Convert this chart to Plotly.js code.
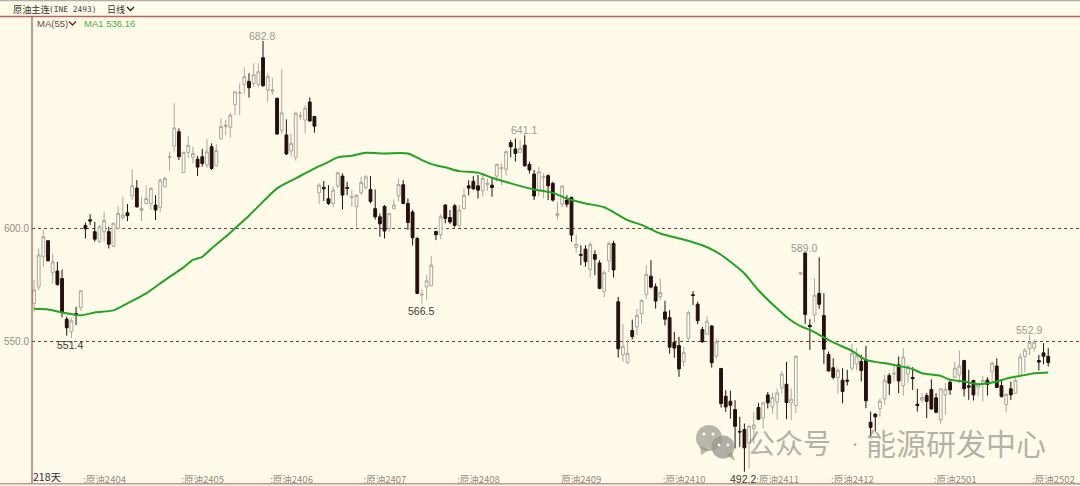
<!DOCTYPE html>
<html><head><meta charset="utf-8">
<script src="https://cdn.plot.ly/plotly-3.0.0.min.js"></script>
<style>html,body{margin:0;padding:0;background:#FFFAE9}#c{width:1080px;height:486px}</style>
</head><body><div id="c"></div>
<script>
const opens=[566.7,574.0,587.3,594.4,580.2,581.0,577.7,559.7,554.1,562.2,
564.8,601.2,603.7,598.4,594.0,598.4,598.4,592.0,599.9,604.6,
606.8,614.3,617.7,607.8,610.9,610.9,610.2,609.2,618.3,631.3,
636.3,642.6,624.6,633.5,631.3,630.5,631.6,627.9,636.0,627.6,
639.5,644.9,644.6,654.6,659.6,663.6,664.9,664.0,663.6,675.4,
661.1,660.6,657.4,643.1,641.2,634.2,631.3,649.3,647.8,655.8,
649.4,615.6,618.0,613.0,610.9,618.6,623.0,618.0,613.6,609.4,
615.6,617.9,617.1,608.6,605.0,609.6,599.9,608.6,614.2,619.2,
610.9,607.1,595.4,570.4,574.0,574.5,598.5,597.1,610.2,604.7,
609.9,601.0,608.6,618.7,620.7,618.7,616.5,619.3,619.0,623.0,
626.3,626.0,637.8,635.0,633.5,636.7,628.2,623.9,616.5,622.3,
623.2,619.8,605.5,610.6,612.4,613.6,591.4,588.3,590.7,581.7,
588.3,584.6,571.9,585.5,593.2,567.4,543.9,540.4,554.7,556.3,
562.2,570.5,578.7,574.0,569.6,562.9,560.4,549.5,548.0,541.0,
551.3,570.5,566.3,555.1,553.1,556.7,543.3,537.9,525.6,523.4,
519.7,510.1,510.9,504.7,511.3,520.6,515.9,526.2,520.9,523.1,
529.3,530.9,522.8,521.5,579.7,589.0,557.0,561.6,571.1,561.3,
544.1,538.2,533.9,532.7,532.7,538.0,539.9,541.0,541.7,514.1,
517.7,520.2,524.4,534.8,535.4,539.5,530.3,535.5,533.9,522.1,
523.9,525.9,528.6,524.9,515.2,526.2,531.8,534.0,535.1,541.4,
530.2,532.6,529.6,531.1,532.7,536.4,539.0,530.3,521.9,528.9,
526.9,534.9,543.2,546.7,546.9,541.4,544.8,543.3];
const closes=[572.6,588.1,596.2,585.6,585.1,575.1,563.0,555.9,559.0,561.4,
572.3,599.7,603.1,595.1,600.6,603.3,592.9,602.1,606.5,605.8,
605.5,618.7,609.4,608.7,613.1,617.6,608.0,621.2,622.0,631.6,
644.3,631.6,633.5,636.6,633.0,627.0,628.6,633.8,626.4,634.4,
644.9,645.6,649.9,660.3,660.0,667.0,662.1,667.9,669.2,663.0,
667.0,661.1,641.6,651.0,632.8,637.5,650.8,649.7,653.0,647.4,
645.1,619.0,617.4,610.9,616.8,624.5,614.6,617.6,613.9,614.5,
620.2,622.7,611.8,605.0,601.9,598.7,606.5,610.2,619.3,610.9,
602.5,595.7,571.1,570.7,576.7,583.6,597.1,605.0,604.3,602.7,
601.2,608.0,614.5,617.7,617.4,616.8,622.0,619.8,618.0,628.2,
626.7,633.8,636.0,633.0,635.3,627.6,625.7,614.2,624.9,622.7,
618.7,612.4,606.4,618.6,610.6,596.9,592.9,588.0,585.1,592.7,
586.2,573.3,580.3,593.2,581.5,546.6,547.7,544.5,552.0,561.3,
568.0,579.5,573.9,567.7,571.5,559.7,547.3,546.9,537.7,544.9,
562.6,570.2,559.0,549.7,558.8,540.4,549.7,522.4,520.9,521.6,
512.3,509.8,502.8,512.4,512.9,515.4,522.7,522.7,525.0,527.1,
535.4,522.8,524.3,543.3,580.2,561.8,556.4,570.3,566.3,546.4,
536.8,534.0,537.1,527.7,532.3,544.6,543.5,537.0,523.6,511.8,
516.5,523.4,532.7,531.4,535.8,532.4,542.9,538.8,533.4,521.5,
525.0,523.3,520.0,518.5,528.9,528.7,528.4,538.0,539.0,528.9,
529.6,526.2,530.9,532.6,530.8,540.2,529.5,525.5,526.4,526.2,
532.7,543.0,546.0,549.5,549.5,540.7,543.3,540.5];
const highs=[577.0,591.0,599.1,594.7,588.8,585.1,581.7,560.8,560.0,565.2,
572.6,602.4,606.2,602.8,601.3,607.2,600.6,602.4,609.7,613.9,
610.6,626.0,621.2,613.9,618.9,618.3,614.6,622.0,622.7,633.8,
655.2,644.1,633.8,640.9,636.0,632.0,635.0,639.4,637.5,637.2,
648.5,647.8,651.0,660.3,664.0,671.1,668.5,672.9,672.9,682.8,
668.5,666.5,657.8,670.2,648.1,641.9,651.5,651.5,654.4,657.8,
649.6,619.8,620.8,619.0,618.3,624.9,624.2,620.5,616.8,615.1,
622.7,623.5,623.0,617.1,606.5,610.2,606.8,612.7,622.0,621.2,
613.1,608.0,596.2,572.9,579.2,587.6,598.8,606.1,610.6,608.0,
610.6,610.2,617.6,621.2,623.0,623.5,624.2,622.0,622.4,628.6,
628.6,634.5,639.0,639.7,639.2,641.1,629.4,625.7,627.1,624.2,
623.8,620.5,611.7,619.0,614.6,613.9,597.2,592.4,592.4,593.9,
590.2,585.8,581.4,593.9,594.4,569.6,557.5,550.4,559.5,564.4,
568.4,583.6,585.8,575.5,577.7,567.8,563.7,554.1,551.9,547.4,
563.4,572.1,567.4,556.3,561.0,557.0,551.1,537.9,528.3,528.0,
523.8,516.5,513.5,512.8,518.7,522.7,523.1,527.5,527.1,529.0,
536.8,540.8,529.0,543.8,580.6,589.0,559.7,577.8,587.1,571.2,
545.4,542.4,538.0,538.0,537.3,548.8,546.9,543.9,547.9,518.8,
518.1,524.7,535.1,535.8,539.5,543.2,546.9,539.5,538.5,528.9,
527.0,527.0,533.1,527.0,529.2,531.4,532.9,541.0,545.8,541.7,
537.3,532.9,531.4,534.6,534.0,541.0,542.4,532.9,527.0,532.1,
533.6,544.6,546.9,552.9,550.8,543.9,549.1,546.9];
const lows=[563.0,572.6,582.9,585.1,575.5,574.5,560.5,552.4,551.4,557.1,
563.4,595.4,601.3,594.0,593.5,594.0,591.0,591.7,599.4,603.6,
603.1,612.4,609.0,603.1,610.6,608.0,603.6,606.9,618.0,625.2,
633.8,630.1,624.5,630.8,628.6,623.0,627.2,626.7,625.7,627.2,
639.2,641.2,640.0,650.0,650.0,659.6,657.7,662.5,662.5,662.5,
655.9,658.9,641.3,641.6,632.3,631.6,629.8,647.8,641.9,647.1,
642.2,610.6,612.0,610.2,609.2,617.6,608.3,614.6,609.4,600.3,
614.6,617.1,610.9,603.8,596.2,595.4,598.4,608.4,611.7,610.5,
599.1,592.3,570.8,566.5,568.2,574.2,594.7,595.0,602.1,601.8,
600.2,600.2,608.3,614.5,616.8,613.1,613.9,616.4,613.9,620.5,
619.0,623.3,631.3,629.4,633.5,627.1,624.2,612.4,614.2,613.1,
612.4,611.7,603.8,609.2,609.2,594.0,589.0,583.6,582.9,578.1,
579.2,573.0,569.3,580.6,578.1,542.7,540.8,540.1,550.7,552.6,
557.8,568.5,573.3,564.4,568.1,557.0,544.5,542.6,534.2,538.6,
550.1,565.9,557.5,549.2,552.6,538.3,542.3,520.6,518.7,515.7,
502.5,503.2,492.2,493.6,504.7,515.0,511.3,520.2,518.0,515.3,
526.8,515.4,515.0,518.2,579.2,557.6,546.1,558.4,564.3,539.9,
536.5,533.1,526.7,522.5,530.3,537.0,537.0,532.1,520.3,507.8,
510.0,516.6,521.8,526.2,532.1,527.0,525.9,531.4,528.4,518.8,
522.5,515.9,519.6,518.1,513.4,517.4,526.2,533.6,531.4,525.5,
524.0,523.7,525.5,523.3,525.9,532.1,529.2,525.0,518.4,524.0,
526.7,534.6,536.2,543.9,545.4,537.0,539.8,538.8];
const days=opens.map((_,i)=>i);
const maDays=[0,3,6,10,13,17,20,24,28,32,34,36,38,41,43,46,49,52,56,61,62,65,68,71,75,80,83,85,88,91,95,98,102,107,111,114,118,122,127,130,134,139,143,146,149,152,155,159,161,164,166,168,171,175,178,183,185,188,190,194,196,199,202,206,208,211,214,217];
const maValues=[564.3,564.0,562.7,561.4,562.7,563.6,566.7,571.1,577.0,582.6,585.9,587.3,591.0,596.2,599.9,605.5,611.7,617.6,622.0,627.4,628.2,631.3,632.0,633.3,633.0,633.0,630.1,628.3,626.9,625.2,624.5,622.3,619.8,617.1,615.6,613.1,610.9,609.2,603.5,601.4,597.6,594.9,592.4,589.5,585.1,579.9,572.5,564.4,560.7,556.6,555.0,552.8,549.4,545.7,541.7,539.9,539.0,537.6,535.8,534.6,532.9,532.1,530.9,532.1,533.4,534.6,535.8,536.16];
const monthStarts=[11,32,51,71,91,113,135,155,171,193,214];
const monthLabels=[":原油2404",":原油2405",":原油2406",":原油2407",":原油2408","原油2409",":原油2410",":原油2411",":原油2412",":原油2501",":原油2502"];
const priceTicks=[600,550];
const peakLabels=[[49,"682.8"],[105,"641.1"],[165,"589.0"],[213,"552.9"]];
const troughLabels=[[8,"551.4"],[83,"566.5"],[152,"492.2"]];

const W=1080,H=486,L=32,T=17,B=12;
const px=x=>(x-L)/(W-L), py=y=>(H-B-y)/(H-T-B);
const bg="#FFFAE9", cjk='"Noto Sans CJK SC","Noto Sans",sans-serif', sans='"Liberation Sans",Arial,sans-serif';
const note=(x,y,text,color,size,family,anchor)=>({xref:"paper",yref:"paper",x:px(x),y:py(y),text,showarrow:false,
  xanchor:anchor||"left",yanchor:"middle",borderpad:0,font:{color,size,family:family||sans}});
const chev=(x,y,c)=>({type:"path",xref:"paper",yref:"paper",line:{color:c,width:1.3},
  path:`M${px(x)},${py(y)} L${px(x+3.5)},${py(y+3.5)} L${px(x+7)},${py(y)}`});
const line=(x0,y0,x1,y1,c,w)=>({type:"line",xref:"paper",yref:"paper",x0:px(x0),y0:py(y0),x1:px(x1),y1:py(y1),line:{color:c,width:w}});
const wm="rgba(140,140,132,0.62)";
const wt="rgba(130,130,124,0.62)";
const circle=(cx,cy,r,c)=>({type:"circle",xref:"paper",yref:"paper",x0:px(cx-r),x1:px(cx+r),y0:py(cy+r),y1:py(cy-r),fillcolor:c,line:{width:0}});
const tri=(pts,c)=>({type:"path",xref:"paper",yref:"paper",fillcolor:c,line:{width:0},path:"M"+pts.map(p=>px(p[0])+","+py(p[1])).join(" L")+" Z"});

const priceNotes=(list,color,dir)=>list.map(([i,t])=>({x:i,y:dir>0?highs[i]:lows[i],text:t,showarrow:false,
  yanchor:dir>0?"bottom":"top",yshift:dir>0?-2:0,xshift:-1,borderpad:0,font:{color,size:10.5,family:sans}}));

const traces=[{type:"candlestick",x:days,open:opens,high:highs,low:lows,close:closes,whiskerwidth:0,
   increasing:{line:{color:"#a8a8a0",width:1},fillcolor:bg},
   decreasing:{line:{color:"#250f0f",width:1},fillcolor:"#250f0f"},hoverinfo:"skip"},
  {type:"scatter",mode:"lines",x:maDays,y:maValues,line:{color:"#1fa51f",width:2,shape:"spline",smoothing:0.7},hoverinfo:"skip"}];

const layout={width:W,height:H,paper_bgcolor:bg,plot_bgcolor:bg,showlegend:false,boxgap:0.4,boxgroupgap:0,
  margin:{l:L,r:0,t:T,b:B,pad:0},
  xaxis:{type:"linear",range:[-0.43,223.8],rangeslider:{visible:false},showgrid:false,zeroline:false,showline:false,ticks:"",
    tickmode:"array",tickvals:monthStarts.map(v=>v+4.1),ticktext:monthLabels,ticklabelstandoff:-2,tickfont:{color:"#8f8f87",size:9.5,family:cjk}},
  yaxis:{range:[491.2,693.4],zeroline:false,showline:false,ticks:"",tickmode:"array",tickvals:priceTicks,ticklabelstandoff:2,
    ticktext:priceTicks.map(v=>v.toFixed(1)),tickfont:{color:"#8f8f86",size:10,family:sans},
    showgrid:true,gridcolor:"#7d3a36",griddash:"3px,3px",gridwidth:1},
  shapes:[
    line(0,0.5,W,0.5,"#b0afa8",1.5),
    line(0,16.5,W,16.5,"#b8645e",1.5),
    line(32,16,32,484,"#a5544e",1.2),
    line(0,483.7,W,483.7,"#c9958a",1.6),
    chev(127,7,"#222"), chev(69,21.5,"#6b2020"),
    circle(709,438,13,wm), tri([[700,446],[701,455],[709,450]],wm),
    circle(723,447,11.5,"rgba(150,150,142,0.75)"), tri([[727,455],[735,461],[732,452]],wm),
    circle(704,434,1.6,bg),circle(713,434,1.6,bg),circle(719,445,1.4,bg),circle(728,445,1.4,bg)
  ],
  annotations:[
    ...priceNotes(peakLabels,"#9a9a92",1),
    ...priceNotes(troughLabels,"#3a3a34",-1),
    note(12,9,"原油主连","#333",9.2,cjk),
    note(48,9,"(INE 2493)","#444",7.9,'"DejaVu Sans Mono",monospace'),
    note(105.5,9,"日线","#333",9,cjk),
    note(35.5,23,"MA(55)","#6a4a4a",9.5),
    note(83,23,"MA1 536.16","#3fb23f",9.5),
    note(32,477,"218天","#2a2a44",10.5,cjk),
    note(746,442,"公众号",wt,28,cjk),
    note(855,442,"·",wt,24,sans,"center"),
    note(865,442,"能源研发中心",wt,30,cjk)
  ]};
Plotly.newPlot("c",traces,layout,{staticPlot:true,displayModeBar:false});
</script></body></html>
